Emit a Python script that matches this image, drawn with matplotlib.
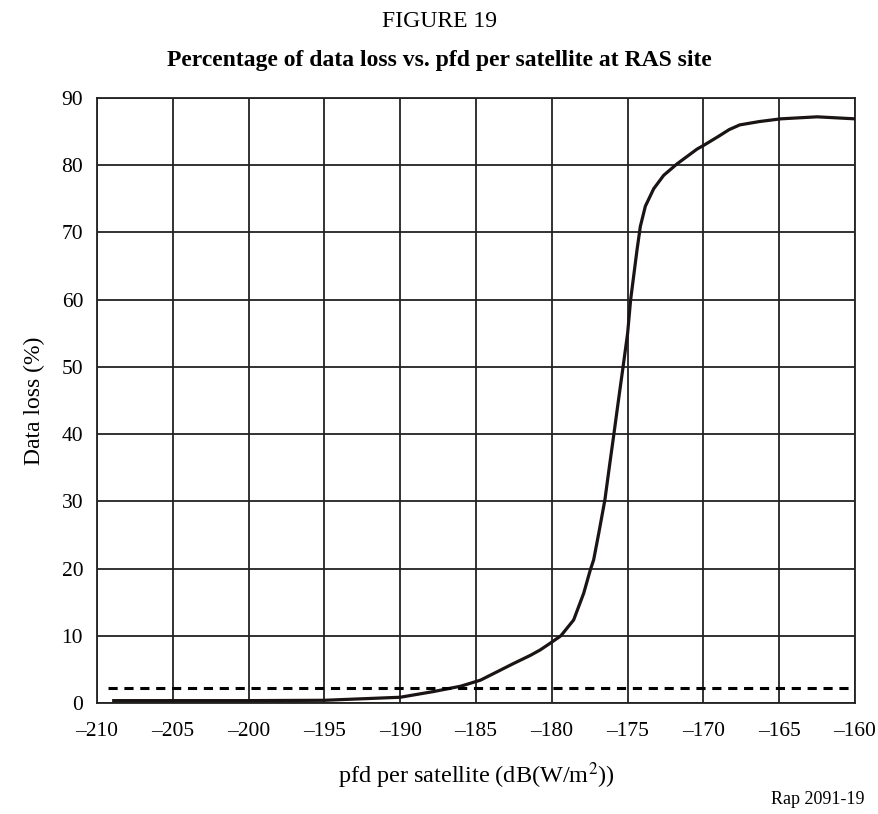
import matplotlib
matplotlib.use("Agg")
import matplotlib.pyplot as plt

# Data
pfd = [-208.9, -205, -200, -195, -190, -187.8, -186.0, -184.7, -182.5, -181.4,
       -180.76, -180.1, -179.4, -178.56, -177.9, -177.46, -177.24, -176.9,
       -176.5, -176.2, -175.9, -175.6, -175.3, -175.0, -174.8, -174.38,
       -174.16, -173.83, -173.28, -172.62, -171.74, -170.42, -169.95, -169.0,
       -168.3, -167.6, -166.3, -164.9, -162.5, -160.0]
loss = [0.35, 0.35, 0.35, 0.4, 0.85, 1.7, 2.5, 3.4, 5.9, 7.1,
        7.9, 8.9, 10.0, 12.35, 16.3, 19.8, 21.3, 25.3,
        30.2, 35.2, 40.1, 45.1, 50.0, 55.0, 60.0, 67.4,
        70.9, 73.9, 76.5, 78.5, 80.2, 82.4, 83.0, 84.3,
        85.3, 86.0, 86.5, 86.9, 87.2, 86.9]
threshold_x = [-209.3, -160]
threshold_y = [2.2, 2.2]

xticks = [-210, -205, -200, -195, -190, -185, -180, -175, -170, -165, -160]
yticks = [0, 10, 20, 30, 40, 50, 60, 70, 80, 90]

plt.rcParams['font.family'] = ['Liberation Serif', 'DejaVu Serif']
plt.rcParams['mathtext.fontset'] = 'stix'

fig = plt.figure(figsize=(8.79, 8.14), dpi=100)
ax = fig.add_axes([0.1104, 0.1364, 0.8623, 0.7432])

ax.plot(pfd, loss, color='#1a1414', lw=2.3, solid_joinstyle='round', zorder=3)
ax.plot(threshold_x, threshold_y, color='black', lw=2.2, linestyle=(0, (3, 2.2)), zorder=3)

ax.set_xlim(-210, -160)
ax.set_ylim(0, 90)
ax.set_xticks(xticks)
ax.set_yticks(yticks)
ax.set_xticklabels([f"\u2013{abs(v)}" for v in xticks])
ax.set_yticklabels([str(v) for v in yticks])
ax.grid(True, color='#222222', lw=1.3)
ax.set_axisbelow(True)
ax.tick_params(axis='x', length=0, labelsize=15.5, pad=14, colors='black')
ax.tick_params(axis='y', length=0, labelsize=15.5, pad=10, colors='black')
for s in ax.spines.values():
    s.set_color('#222222')
    s.set_linewidth(1.3)

ax.set_ylabel("Data loss (%)", fontsize=17, labelpad=12)
ax.set_xlabel("pfd per satellite (dB(W/m$^2$))", fontsize=17.5, labelpad=14)

fig.text(0.5, 0.974, "FIGURE 19", ha='center', va='center', fontsize=17)
fig.text(0.5, 0.926, "Percentage of data loss vs. pfd per satellite at RAS site",
         ha='center', va='center', fontsize=17, fontweight='bold')
fig.text(0.984, 0.018, "Rap 2091-19", ha='right', va='center', fontsize=13)

fig.savefig("out.png", dpi=100)
